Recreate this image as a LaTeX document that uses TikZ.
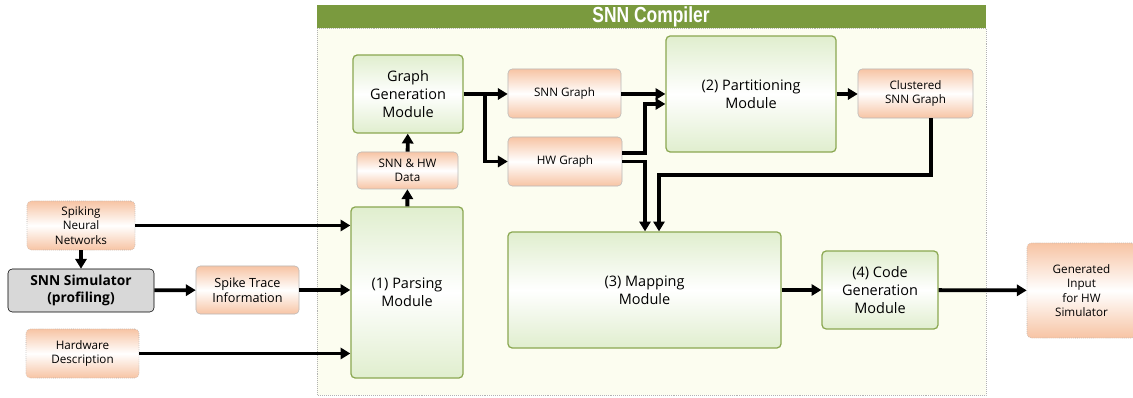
\documentclass[tikz,border=0pt]{standalone}
\usepackage{fontspec}
\setmainfont{Open Sans}
\newfontfamily\titlefont[FakeStretch=0.8]{Liberation Sans}
\usetikzlibrary{arrows.meta, positioning, calc}

\definecolor{peach}{RGB}{247,196,164}
\definecolor{grnfill}{RGB}{224,238,206}
\definecolor{grnline}{RGB}{139,168,82}
\definecolor{titlegrn}{RGB}{122,154,62}
\definecolor{panel}{RGB}{252,253,240}
\definecolor{simgray}{RGB}{216,216,216}

\begin{document}
\begin{tikzpicture}[
  x=0.025cm, y=-0.025cm,
  box/.style={rounded corners=3pt, align=center, inner sep=1pt},
  obox/.style={box, draw=gray!55, top color=peach, bottom color=peach,
               middle color=white, font=\fontsize{8.3}{10.3}\selectfont},
  gbox/.style={box, draw=grnline, line width=0.9pt, top color=grnfill,
               bottom color=grnfill, middle color=white,
               font=\fontsize{10.3}{12.5}\selectfont},
  arr/.style={-{Triangle[length=7pt,width=8pt]}, line width=2.7pt}
]
  \useasboundingbox (0,0) rectangle (1133,398);

  % compiler panel
  \fill[panel] (317,28) rectangle (986,395);
  \draw[gray!60, densely dotted] (317,28) rectangle (986,395);
  \fill[titlegrn] (317,5) rectangle (986,28);
  \node[text=white, font=\titlefont\bfseries\fontsize{15.5}{17}\selectfont]
       (title) at (651,17) {SNN Compiler};

  % inputs
  \node[obox, minimum width=2.7cm, minimum height=1.225cm, draw=gray!60, densely dotted]
       (snn) at (81,225.5) {Spiking\\Neural\\Networks};
  \node[box, draw=black, fill=simgray, minimum width=3.65cm, minimum height=1.075cm,
        font=\bfseries\fontsize{9.8}{12}\selectfont]
       (sim) at (81,290.5) {SNN Simulator\\(profiling)};
  \node[obox, minimum width=2.575cm, minimum height=1.2cm,
        font=\fontsize{9}{11}\selectfont]
       (trace) at (247.5,290) {Spike Trace\\Information};
  \node[obox, minimum width=2.825cm, minimum height=1.225cm, draw=gray!60, densely dotted]
       (hwd) at (82.5,353.5) {Hardware\\Description};

  % compiler modules
  \node[gbox, minimum width=2.8cm, minimum height=4.275cm]
       (parse) at (407,292.5) {(1) Parsing\\Module};
  \node[obox, minimum width=2.525cm, minimum height=0.925cm]
       (data) at (407.5,170.5) {SNN \& HW\\Data};
  \node[gbox, minimum width=2.75cm, minimum height=1.95cm]
       (gen) at (408,94) {Graph\\Generation\\Module};
  \node[obox, minimum width=2.825cm, minimum height=1.225cm]
       (snng) at (564.5,93.5) {SNN Graph};
  \node[obox, minimum width=2.85cm, minimum height=1.225cm]
       (hwg) at (565,161.5) {HW Graph};
  \node[gbox, minimum width=4.25cm, minimum height=2.9cm]
       (part) at (751,94) {(2) Partitioning\\Module};
  \node[obox, minimum width=2.875cm, minimum height=1.225cm]
       (clus) at (915.5,93.5) {Clustered\\SNN Graph};
  \node[gbox, minimum width=6.825cm, minimum height=2.9cm]
       (map) at (644.5,290) {(3) Mapping\\Module};
  \node[gbox, minimum width=2.9cm, minimum height=1.95cm]
       (code) at (880,290) {(4) Code\\Generation\\Module};

  % output
  \node[obox, minimum width=2.725cm, minimum height=2.375cm, draw=gray!60, densely dotted]
       (out) at (1081.5,290.5) {Generated\\Input\\for HW\\Simulator};

  % bends
  \coordinate (split) at (485,94);
  \coordinate (colA) at (645,104);
  \coordinate (colB) at (659,175);

  \draw[arr] (snn.east) -- (snn.east -| parse.west);
  \draw[arr] (snn) -- (sim);
  \draw[arr] (sim) -- (trace);
  \draw[arr] (trace) -- (trace -| parse.west);
  \draw[arr] (hwd) -- (hwd -| parse.west);
  \draw[arr] (parse) -- (data);
  \draw[arr] (data) -- (gen);
  \draw[arr] (gen.east |- split) -- (snng.west |- split);
  \draw[arr] (split) |- (hwg.west);
  \draw[arr] (snng.east |- split) -- (part.west |- split);
  \draw[arr] ([yshift=0.21cm]hwg.east) -| (colA) -- (colA -| part.west);
  \draw[arr] (hwg.east) -| (colA |- map.north);
  \draw[arr] (part.east |- split) -- (clus.west |- split);
  \draw[arr] ([xshift=0.38cm]clus.south) |- (colB) -- (colB |- map.north);
  \draw[arr] (map.east |- code) -- (code);
  \draw[arr] (code) -- (out);
\end{tikzpicture}
\end{document}
